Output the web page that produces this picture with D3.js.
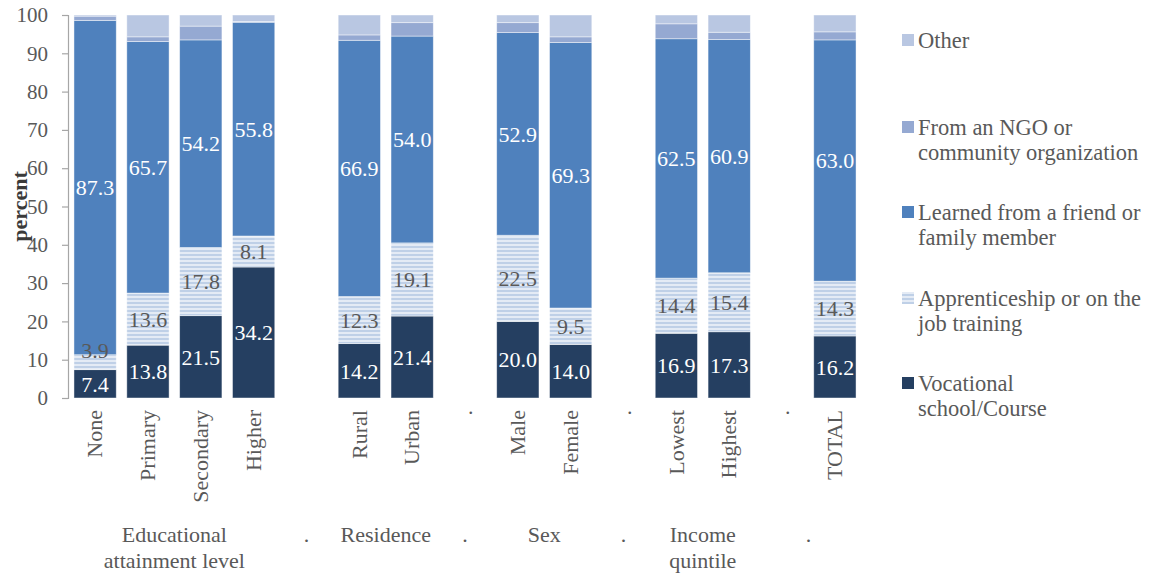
<!DOCTYPE html>
<html>
<head>
<meta charset="utf-8">
<script src="https://cdn.jsdelivr.net/npm/d3@7"></script>
<style>
  html, body { margin: 0; padding: 0; background: #ffffff; }
  svg { display: block; }
  text { font-family: "Liberation Serif", "DejaVu Serif", serif; }
</style>
</head>
<body>
<svg id="chart" width="1154" height="576"></svg>
<script>
// Axis slots: blank and "." slots act as spacers between groups
const categories = ["None", "Primary", "Secondary", "Higher", "", "Rural", "Urban", ".",
                    "Male", "Female", ".", "Lowest", "Highest", ".", "TOTAL"];

// Series values (percent); null marks a spacer slot
const vocational     = [7.4, 13.8, 21.5, 34.2, null, 14.2, 21.4, null, 20.0, 14.0, null, 16.9, 17.3, null, 16.2];
const apprenticeship = [3.9, 13.6, 17.8, 8.1,  null, 12.3, 19.1, null, 22.5, 9.5,  null, 14.4, 15.4, null, 14.3];
const friendFamily   = [87.3, 65.7, 54.2, 55.8, null, 66.9, 54.0, null, 52.9, 69.3, null, 62.5, 60.9, null, 63.0];
const ngo            = [1.1, 1.2, 3.6, 0.2, null, 1.4, 3.5, null, 2.6, 1.5, null, 3.9, 1.9, null, 2.1];
const other          = [0.3, 5.7, 2.9, 1.7, null, 5.2, 2.0, null, 2.0, 5.7, null, 2.3, 4.5, null, 4.4];

const seriesNames = ["Vocational school/Course", "Apprenticeship or on the job training",
                     "Learned from a friend or family member", "From an NGO or community organization", "Other"];

// Legend text, already broken into lines (top entry first)
const legendLines = [
  ["Other"],
  ["From an NGO or", "community organization"],
  ["Learned from a friend or", "family member"],
  ["Apprenticeship or on the", "job training"],
  ["Vocational", "school/Course"]
];

// Outer category level: label lines and the first/last slot each covers
const groupLabels = [["Educational", "attainment level"], ["."], ["Residence"], ["."],
                     ["Sex"], ["."], ["Income", "quintile"], ["."]];
const groupFirst = [0, 4, 5, 7, 8, 10, 11, 13];
const groupLast  = [3, 4, 6, 7, 9, 10, 12, 14];

const yTicks = [0, 10, 20, 30, 40, 50, 60, 70, 80, 90, 100];

const svg = d3.select("#chart");

const defs = svg.append("defs");
const stripe = defs.append("pattern")
  .attr("id", "stripes")
  .attr("patternUnits", "userSpaceOnUse")
  .attr("width", 8).attr("height", 4);
stripe.append("rect").attr("width", 8).attr("height", 4).attr("fill", "#e4ebf5");
stripe.append("rect").attr("y", 2).attr("width", 8).attr("height", 2).attr("fill", "#bfd0e7");

const fills = ["#253f61", "url(#stripes)", "#4f81bd", "#95a9d2", "#b9c7e2"];
const labelColors = ["#ffffff", "#595959", "#ffffff", null, null];

const plotLeft = 68, plotRight = 862, plotTop = 15, plotBottom = 398;

const x = d3.scaleBand()
  .domain(d3.range(categories.length))
  .range([plotLeft, plotRight])
  .paddingInner(0.2)
  .paddingOuter(0.113);

const y = d3.scaleLinear().domain([0, 100]).range([plotBottom, plotTop]);

// Stack the five series
const rows = categories.map((c, i) => ({
  i,
  s0: vocational[i], s1: apprenticeship[i], s2: friendFamily[i], s3: ngo[i], s4: other[i]
})).filter(d => d.s0 !== null);

const stack = d3.stack().keys(["s0", "s1", "s2", "s3", "s4"]);
const layers = stack(rows);

const layerG = svg.append("g").selectAll("g")
  .data(layers)
  .join("g")
  .attr("fill", (d, k) => fills[k]);

layerG.selectAll("rect")
  .data(d => d)
  .join("rect")
  .attr("x", d => x(d.data.i))
  .attr("width", x.bandwidth())
  .attr("y", d => y(d[1]))
  .attr("height", d => y(d[0]) - y(d[1]))
  .attr("stroke", "#ffffff")
  .attr("stroke-opacity", 0.55)
  .attr("stroke-width", 0.8);

// Value labels for the first three series; a label too tall for its
// segment is lifted so that it sits on the segment's upper edge
layers.forEach((layer, k) => {
  if (!labelColors[k]) return;
  svg.append("g").selectAll("text")
    .data(layer)
    .join("text")
    .attr("x", d => x(d.data.i) + x.bandwidth() / 2)
    .attr("y", d => {
      const h = y(d[0]) - y(d[1]);
      return h < 20 ? y(d[1]) - 4 : y((d[0] + d[1]) / 2);
    })
    .attr("dy", "0.35em")
    .attr("text-anchor", "middle")
    .attr("font-size", 22)
    .attr("fill", labelColors[k])
    .text(d => d3.format(".1f")(d[1] - d[0]));
});

// Y axis
const yAxis = svg.append("g")
  .attr("transform", `translate(${plotLeft},0)`)
  .call(d3.axisLeft(y).tickValues(yTicks).tickSize(6).tickPadding(14).tickFormat(d3.format("d")));
yAxis.select(".domain").attr("stroke", "#a6a6a6").attr("stroke-width", 1.2);
yAxis.selectAll(".tick line").attr("stroke", "#a6a6a6").attr("stroke-width", 1.2);
yAxis.selectAll(".tick text")
  .attr("font-family", "'Liberation Serif', serif")
  .attr("font-size", 21)
  .attr("fill", "#595959");

svg.append("text")
  .attr("transform", `translate(19,${(plotTop + plotBottom) / 2}) rotate(-90)`)
  .attr("text-anchor", "middle")
  .attr("dy", "0.35em")
  .attr("font-size", 22)
  .attr("font-weight", "bold")
  .attr("fill", "#3a3a3a")
  .text("percent");

// Inner category labels (rotated)
svg.append("g").selectAll("text")
  .data(categories.map((c, i) => ({ c, i })).filter(d => d.c !== ""))
  .join("text")
  .attr("transform", d => `translate(${x(d.i) + x.bandwidth() / 2},410) rotate(-90)`)
  .attr("text-anchor", "end")
  .attr("dy", "0.33em")
  .attr("font-size", 22)
  .attr("fill", "#595959")
  .text(d => d.c);

// Outer group labels
const groupCenter = g => (x(groupFirst[g]) + x(groupLast[g]) + x.bandwidth()) / 2;
const groupG = svg.append("g").selectAll("text")
  .data(groupLabels.map((lines, g) => ({ lines, g })))
  .join("text")
  .attr("text-anchor", "middle")
  .attr("font-size", 22)
  .attr("fill", "#595959")
  .attr("x", d => groupCenter(d.g))
  .attr("y", 542);
groupG.selectAll("tspan")
  .data(d => d.lines.map((t, n) => ({ t, n, gx: groupCenter(d.g) })))
  .join("tspan")
  .attr("x", d => d.gx)
  .attr("dy", d => d.n === 0 ? 0 : 26)
  .text(d => d.t);

// Legend
const legend = svg.append("g").attr("transform", "translate(902,0)");
const legendY = [40, 127, 212, 298, 383];
const legendFills = [fills[4], fills[3], fills[2], fills[1], fills[0]];
legendLines.forEach((lines, k) => {
  legend.append("rect")
    .attr("x", 0).attr("y", legendY[k] - 6)
    .attr("width", 12).attr("height", 12)
    .attr("fill", legendFills[k]);
  const t = legend.append("text")
    .attr("x", 16).attr("y", legendY[k])
    .attr("font-size", 22.5)
    .attr("fill", "#595959");
  lines.forEach((line, n) => {
    t.append("tspan").attr("x", 16).attr("dy", n === 0 ? "0.35em" : 25).text(line);
  });
});
</script>
</body>
</html>
